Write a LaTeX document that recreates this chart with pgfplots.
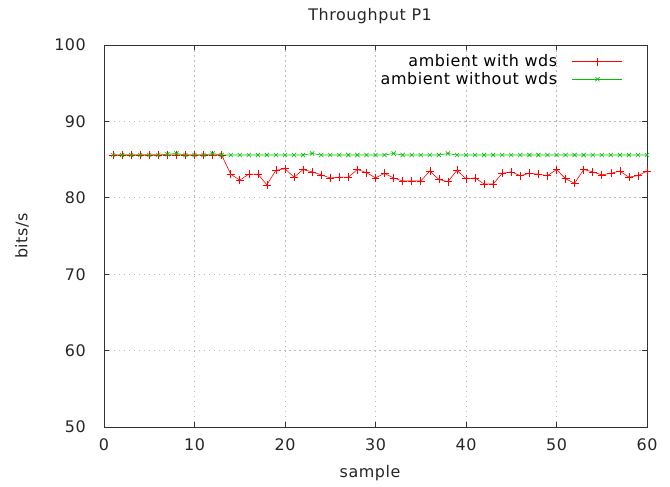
\documentclass[border=0pt]{standalone}
\usepackage{pgfplots}
\pgfplotsset{compat=1.18}
\usepackage{fontspec}
\setmainfont{DejaVu Sans}[LetterSpace=3.5]
\definecolor{gpred}{RGB}{255,0,0}
\definecolor{gpgreen}{RGB}{0,192,0}
\newcommand{\gpfont}{\fontsize{16}{18}\selectfont}
\begin{document}
\begin{tikzpicture}
\useasboundingbox (-104bp,-60bp) rectangle (566bp,427bp);
\begin{axis}[
  at={(0,0)}, anchor=south west,
  scale only axis, width=543bp, height=382bp,
  xmin=0, xmax=60, ymin=50, ymax=100,
  xtick={0,10,...,60}, ytick={50,60,...,100},
  tick align=inside, tick pos=both,
  major tick length=5bp,
  grid=major,
  major grid style={gray!55, line width=0.8pt, dash pattern=on 1.5bp off 3.5bp},
  axis line style={line width=0.7pt, black!80},
  every tick/.style={black!80, line width=0.7pt},
  tick label style={font=\gpfont, text=black!85},
  /pgf/number format/assume math mode=true,
  yticklabel style={anchor=east, inner sep=0pt, xshift=-18bp},
  xticklabel style={anchor=north, inner sep=0pt, yshift=-11bp},
  xlabel={sample}, ylabel={bits/s},
  label style={font=\gpfont, text=black!85},
  xlabel style={at={(axis description cs:0.49,-0.1204)}, anchor=center},
  ylabel style={at={(axis description cs:-0.151,0.5)}, anchor=center},
  title={Throughput P1},
  title style={font=\gpfont, text=black!85, at={(axis description cs:0.49,1)}, anchor=center, yshift=23bp},
  legend style={draw=none, fill=none, at={(axis cs:57.67,99.27)}, anchor=north east,
    font=\gpfont, row sep=0bp, column sep=13bp},
  legend cell align=right,
  legend plot pos=right,
  legend image code/.code={\draw[#1, mark repeat=2, mark phase=2] plot coordinates {(0bp,0bp) (25bp,0bp) (50bp,0bp)};},
]
\addplot[color=gpred, line width=0.6pt, mark=+, mark size=4pt, mark options={line width=0.6pt}] coordinates {
(1,85.6)(2,85.6)(3,85.6)(4,85.6)(5,85.6)(6,85.6)(7,85.6)(8,85.6)(9,85.6)(10,85.6)
(11,85.6)(12,85.6)(13,85.6)(14,83.1)(15,82.3)(16,83.1)(17,83.1)(18,81.7)(19,83.6)(20,83.8)
(21,82.7)(22,83.7)(23,83.4)(24,83.0)(25,82.6)(26,82.7)(27,82.7)(28,83.7)(29,83.3)(30,82.6)
(31,83.2)(32,82.6)(33,82.2)(34,82.2)(35,82.2)(36,83.5)(37,82.4)(38,82.1)(39,83.6)(40,82.5)
(41,82.6)(42,81.8)(43,81.8)(44,83.2)(45,83.4)(46,82.9)(47,83.2)(48,83.1)(49,82.9)(50,83.7)
(51,82.5)(52,81.9)(53,83.7)(54,83.4)(55,83.0)(56,83.2)(57,83.5)(58,82.7)(59,82.9)(60,83.5)
};
\addlegendentry{ambient with wds}
\addplot[color=gpgreen, line width=0.6pt, mark=x, mark size=3pt, mark options={line width=0.6pt}] coordinates {
(1,85.6)(2,85.6)(3,85.6)(4,85.6)(5,85.6)(6,85.6)(7,85.7)(8,85.8)(9,85.6)(10,85.6)
(11,85.6)(12,85.8)(13,85.6)(14,85.6)(15,85.6)(16,85.6)(17,85.6)(18,85.6)(19,85.6)(20,85.6)
(21,85.6)(22,85.6)(23,85.8)(24,85.6)(25,85.6)(26,85.6)(27,85.6)(28,85.6)(29,85.6)(30,85.6)
(31,85.6)(32,85.8)(33,85.6)(34,85.6)(35,85.6)(36,85.6)(37,85.6)(38,85.8)(39,85.6)(40,85.6)
(41,85.6)(42,85.6)(43,85.6)(44,85.6)(45,85.6)(46,85.6)(47,85.6)(48,85.6)(49,85.6)(50,85.6)
(51,85.6)(52,85.6)(53,85.6)(54,85.6)(55,85.6)(56,85.6)(57,85.6)(58,85.6)(59,85.6)(60,85.6)
};
\addlegendentry{ambient without wds}
\end{axis}
\end{tikzpicture}
\end{document}
